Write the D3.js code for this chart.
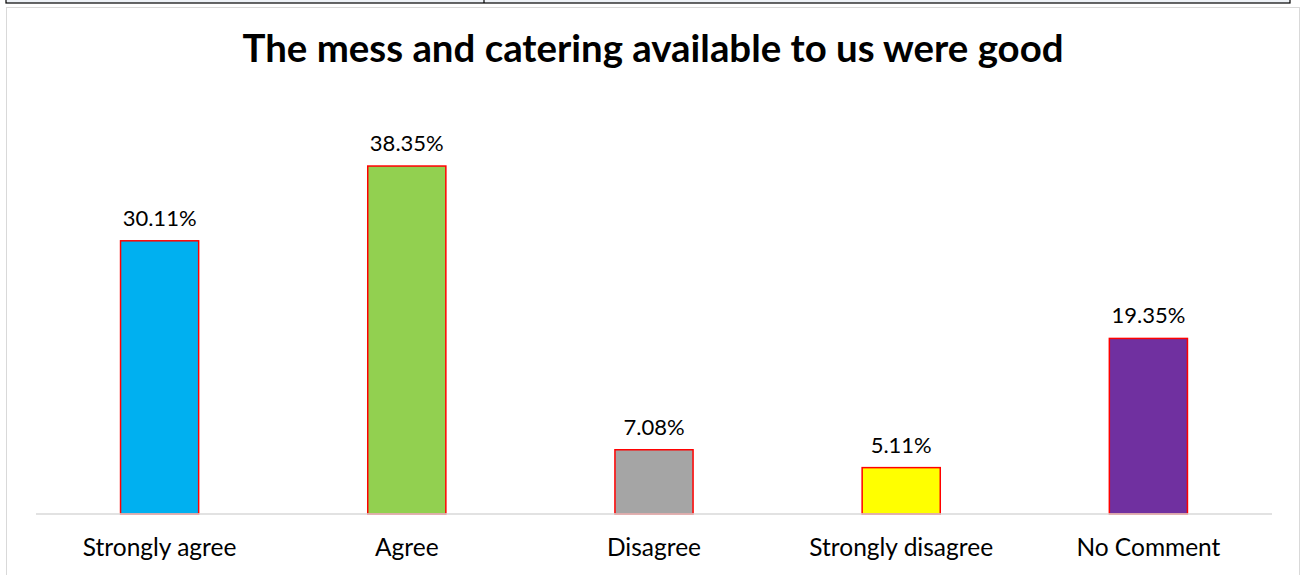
<!DOCTYPE html>
<html>
<head>
<meta charset="utf-8">
<script src="https://cdn.jsdelivr.net/npm/d3@7/dist/d3.min.js"></script>
<style>
  html, body { margin: 0; padding: 0; background: #ffffff; }
  svg { display: block; }
</style>
</head>
<body>
<svg id="chart" width="1303" height="575"></svg>
<script>
const categories = ["Strongly agree", "Agree", "Disagree", "Strongly disagree", "No Comment"];
const values = [30.11, 38.35, 7.08, 5.11, 19.35];
const colors = ["#00b0f0", "#92d050", "#a5a5a5", "#ffff00", "#7030a0"];
const valueLabels = ["30.11%", "38.35%", "7.08%", "5.11%", "19.35%"];
const title = "The mess and catering available to us were good";

const svg = d3.select("#chart");
const W = 1303, H = 575;

// top strip (table border remnants)
svg.append("rect").attr("x", 6).attr("y", -2).attr("width", 1284).attr("height", 5)
  .attr("fill", "#eef2f7").attr("stroke", "#000").attr("stroke-width", 1.2);
svg.append("line").attr("x1", 484).attr("x2", 484).attr("y1", 0).attr("y2", 3)
  .attr("stroke", "#000").attr("stroke-width", 1.2);

// chart area border
svg.append("rect").attr("x", 6.5).attr("y", 7.5).attr("width", 1293).attr("height", 580)
  .attr("fill", "#fff").attr("stroke", "#d9d9d9").attr("stroke-width", 1);

const font = "Lato, 'Open Sans', sans-serif";

svg.append("text").attr("x", 653).attr("y", 62).attr("text-anchor", "middle")
  .attr("font-family", font).attr("font-weight", "bold").attr("font-size", 38.4)
  .attr("fill", "#000").text(title);

const x = d3.scaleBand().domain(categories).range([36, 1272]).paddingInner(0.684).paddingOuter(0.342);
const y = d3.scaleLinear().domain([0, 45]).range([514, 105.7]);

svg.append("g").selectAll("rect").data(values).join("rect")
  .attr("x", (d, i) => x(categories[i]))
  .attr("y", d => y(d))
  .attr("width", x.bandwidth())
  .attr("height", d => y(0) - y(d))
  .attr("fill", (d, i) => colors[i])
  .attr("stroke", "#ff0000").attr("stroke-width", 1.5);

svg.append("g").selectAll("text").data(values).join("text")
  .attr("x", (d, i) => x(categories[i]) + x.bandwidth() / 2)
  .attr("y", d => y(d) - 15)
  .attr("text-anchor", "middle")
  .attr("font-family", font).attr("font-size", 22).attr("fill", "#000")
  .text((d, i) => valueLabels[i]);

const xAxis = svg.append("g").attr("transform", "translate(0,514)")
  .call(d3.axisBottom(x).tickSize(0).tickPadding(25));
xAxis.select(".domain").attr("stroke", "#d9d9d9").attr("stroke-width", 1.5)
  .attr("d", "M36,0H1272");
xAxis.selectAll("text").attr("font-family", font).attr("font-size", 24.5).attr("fill", "#000");
</script>
</body>
</html>
